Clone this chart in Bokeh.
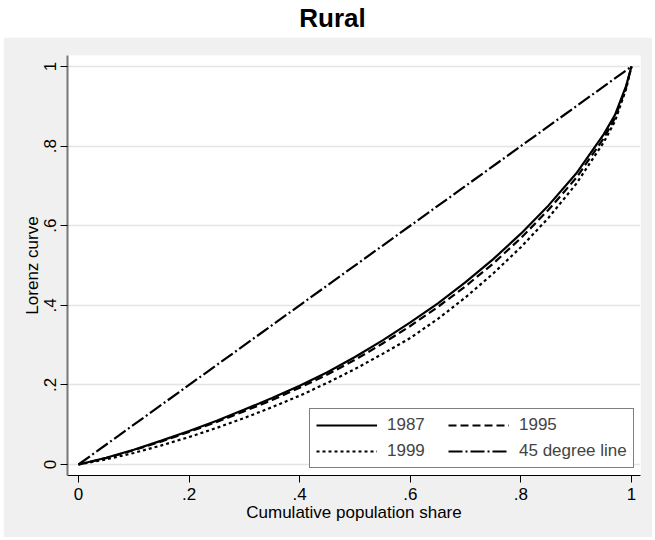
from bokeh.plotting import figure
from bokeh.models import (Range1d, FixedTicker, CustomJSTickFormatter, Div,
                          Legend, LegendItem)
from bokeh.layouts import column
from bokeh.embed import file_html
from bokeh.resources import INLINE

# Lorenz curve ordinates at cumulative population shares
pop_share = [0, 0.05, 0.10, 0.15, 0.20, 0.25, 0.30, 0.35, 0.40, 0.45, 0.50,
             0.55, 0.60, 0.65, 0.70, 0.75, 0.80, 0.85, 0.90, 0.95, 0.97, 0.99, 1.0]
lorenz_1987 = [0, 0.017, 0.037, 0.060, 0.084, 0.110, 0.138, 0.167, 0.198, 0.232, 0.270,
               0.312, 0.357, 0.405, 0.458, 0.516, 0.580, 0.651, 0.731, 0.830, 0.878, 0.950, 1.0]
lorenz_1995 = [0, 0.016, 0.036, 0.058, 0.082, 0.107, 0.134, 0.162, 0.193, 0.226, 0.263,
               0.304, 0.348, 0.396, 0.448, 0.505, 0.569, 0.640, 0.720, 0.820, 0.870, 0.946, 1.0]
lorenz_1999 = [0, 0.013, 0.029, 0.048, 0.069, 0.092, 0.117, 0.144, 0.173, 0.205, 0.240,
               0.278, 0.318, 0.366, 0.420, 0.480, 0.546, 0.620, 0.705, 0.810, 0.862, 0.942, 1.0]
equality_x = [0, 1]
equality_y = [0, 1]
tick_values = [0, 0.2, 0.4, 0.6, 0.8, 1]

FONT = "Liberation Sans"
BG = "#F0F0F0"

p = figure(frame_width=573, frame_height=420,
           min_border_left=64, min_border_right=12,
           min_border_top=18, min_border_bottom=62,
           x_range=Range1d(-0.0199, 1.0163), y_range=Range1d(-0.0276, 1.0276),
           output_backend="svg", toolbar_location=None)
p.margin = (0, 3, 3, 3)
p.border_fill_color = BG
p.background_fill_color = "white"
p.outline_line_color = None

r87 = p.line(pop_share, lorenz_1987, line_color="black", line_width=2.2)
r95 = p.line(pop_share, lorenz_1995, line_color="black", line_width=2.2, line_dash="8 4")
r99 = p.line(pop_share, lorenz_1999, line_color="black", line_width=2.2, line_dash="3 3")
r45 = p.line(equality_x, equality_y, line_color="black", line_width=2.2, line_dash="14 3 2 3")

fmt = CustomJSTickFormatter(code="""
    if (tick == 0) return '0';
    if (tick == 1) return '1';
    return tick.toFixed(1).replace(/^0/, '');
""")

for ax in (p.xaxis[0], p.yaxis[0]):
    ax.ticker = FixedTicker(ticks=tick_values)
    ax.formatter = fmt
    ax.minor_tick_line_color = None
    ax.major_tick_in = 0
    ax.major_tick_out = 7
    ax.major_tick_line_color = "black"
    ax.major_label_text_font = FONT
    ax.major_label_text_font_size = "17px"
    ax.major_label_text_color = "black"
    ax.axis_label_text_font = FONT
    ax.axis_label_text_font_size = "17px"
    ax.axis_label_text_font_style = "normal"
    ax.axis_label_text_color = "black"

p.xaxis.axis_label = "Cumulative population share"
p.yaxis.axis_label = "Lorenz curve"
p.xaxis.axis_line_color = "black"
p.yaxis.axis_line_color = "#777777"
p.yaxis.axis_line_width = 2
p.xaxis.major_label_standoff = 5
p.yaxis.major_label_standoff = 4
p.xaxis.axis_label_standoff = 0
p.yaxis.axis_label_standoff = 0
p.yaxis.major_label_orientation = "vertical"

p.xgrid.grid_line_color = None
p.ygrid.ticker = FixedTicker(ticks=tick_values)
p.ygrid.grid_line_color = "#E4E4E4"
p.ygrid.grid_line_width = 1.5

legend = Legend(items=[
    LegendItem(label="1987", renderers=[r87]),
    LegendItem(label="1995", renderers=[r95]),
    LegendItem(label="1999", renderers=[r99]),
    LegendItem(label="45 degree line", renderers=[r45]),
], location=(242, 7), orientation="horizontal", ncols=2)
legend.label_text_font = FONT
legend.label_text_font_size = "17px"
legend.glyph_width = 61
legend.glyph_height = 20
legend.label_standoff = 10
legend.label_width = 55
legend.label_height = 20
legend.spacing = 6
legend.padding = 6
legend.margin = 0
legend.border_line_color = "black"
legend.border_line_width = 1
legend.background_fill_color = "white"
legend.background_fill_alpha = 1
p.add_layout(legend)

title = Div(text="Rural", width=655, height=37, margin=0,
            styles={"font-family": FONT, "font-weight": "bold", "font-size": "26px",
                    "text-align": "center", "line-height": "37px", "color": "black",
                    "width": "655px", "padding-left": "10px", "box-sizing": "border-box"})

layout = column(title, p, spacing=0)
open("out.html", "w").write(file_html(layout, INLINE))
